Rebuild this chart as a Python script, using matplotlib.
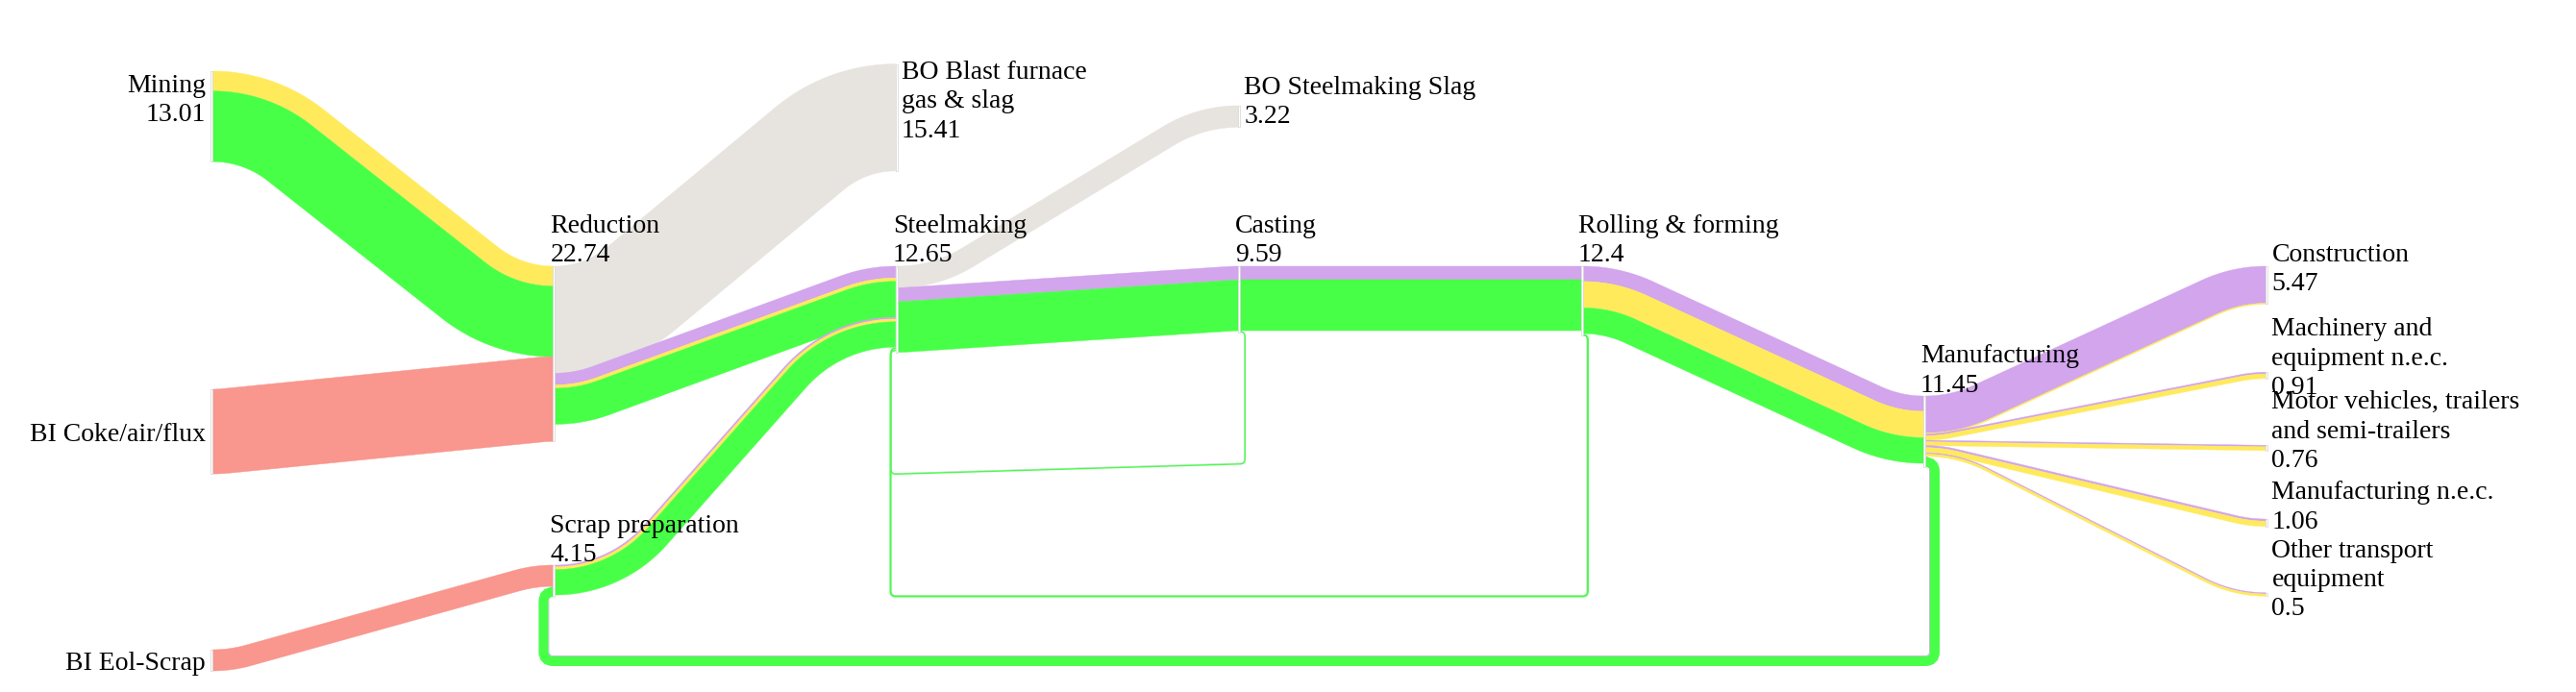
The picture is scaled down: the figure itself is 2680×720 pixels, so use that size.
import numpy as np
import matplotlib
matplotlib.use("Agg")
import matplotlib.pyplot as plt
from matplotlib.path import Path
from matplotlib.patches import PathPatch, Polygon, Rectangle

# ---- data -----------------------------------------------------------------
node_names = [
    "Mining", "BI Coke/air/flux", "BI Eol-Scrap",
    "Reduction", "Scrap preparation",
    "BO Blast furnace gas & slag", "Steelmaking",
    "BO Steelmaking Slag", "Casting",
    "Rolling & forming",
    "Manufacturing",
    "Construction", "Machinery and equipment n.e.c.",
    "Motor vehicles, trailers and semi-trailers",
    "Manufacturing n.e.c.", "Other transport equipment",
]
node_labels = [
    "Mining", "BI Coke/air/flux", "BI Eol-Scrap",
    "Reduction", "Scrap preparation",
    "BO Blast furnace\ngas & slag", "Steelmaking",
    "BO Steelmaking Slag", "Casting",
    "Rolling & forming",
    "Manufacturing",
    "Construction", "Machinery and\nequipment n.e.c.",
    "Motor vehicles, trailers\nand semi-trailers",
    "Manufacturing n.e.c.", "Other transport\nequipment",
]
node_values = [13.01, None, None, 22.74, 4.15, 15.41, 12.65, 3.22, 9.59,
               12.4, 11.45, 5.47, 0.91, 0.76, 1.06, 0.5]

# links, stacked at every node in the order they appear here
link_source = [
    "Mining", "Mining", "BI Coke/air/flux", "BI Eol-Scrap",
    "Reduction", "Reduction", "Reduction", "Reduction",
    "Scrap preparation", "Scrap preparation", "Scrap preparation",
    "Steelmaking", "Steelmaking", "Steelmaking",
    "Casting", "Casting", "Casting", "Casting",
    "Rolling & forming", "Rolling & forming", "Rolling & forming",
    "Rolling & forming", "Rolling & forming",
    "Manufacturing", "Manufacturing", "Manufacturing", "Manufacturing",
    "Manufacturing", "Manufacturing", "Manufacturing", "Manufacturing",
    "Manufacturing", "Manufacturing", "Manufacturing", "Manufacturing",
]
link_target = [
    "Reduction", "Reduction", "Reduction", "Scrap preparation",
    "BO Blast furnace gas & slag", "Steelmaking", "Steelmaking", "Steelmaking",
    "Steelmaking", "Steelmaking", "Steelmaking",
    "BO Steelmaking Slag", "Casting", "Casting",
    "Rolling & forming", "Rolling & forming", "Steelmaking", "Steelmaking",
    "Manufacturing", "Manufacturing", "Manufacturing",
    "Steelmaking", "Steelmaking",
    "Construction", "Construction",
    "Machinery and equipment n.e.c.", "Machinery and equipment n.e.c.",
    "Motor vehicles, trailers and semi-trailers",
    "Motor vehicles, trailers and semi-trailers",
    "Manufacturing n.e.c.", "Manufacturing n.e.c.",
    "Other transport equipment", "Other transport equipment",
    "Scrap preparation", "Scrap preparation",
]
link_material = [
    "yellow", "green", "input", "input",
    "loss", "purple", "yellow", "green",
    "purple", "yellow", "green",
    "loss", "purple", "green",
    "purple", "green", "purple", "green",
    "purple", "yellow", "green",
    "purple", "green",
    "purple", "yellow", "purple", "yellow", "purple", "yellow",
    "purple", "yellow", "purple", "yellow",
    "purple", "green",
]
link_value = [
    2.87, 10.17, 12.2, 3.05,
    15.41, 1.7, 0.48, 5.18,
    0.25, 0.4, 3.65,
    3.1, 2.0, 7.3,
    2.0, 7.3, 0.05, 0.2,
    2.2, 3.8, 3.7,
    0.05, 0.28,
    5.33, 0.14, 0.26, 0.65, 0.22, 0.54,
    0.3, 0.76, 0.18, 0.32,
    0.12, 1.4,
]

material_colors = {
    "green": "#48FF48",
    "yellow": "#FFEA5C",
    "purple": "#D2A5EC",
    "loss": "#E7E3DF",
    "input": "#F9968D",
}

# ---- layout (pixels) ---------------------------------------------------------
node_column = [0, 0, 0, 1, 1, 2, 2, 3, 3, 4, 5, 6, 6, 6, 6, 6]
node_top = [74, 405, 676, 277, 588, 66.6, 277, 110, 277, 277, 412,
            277, 387.3, 463.3, 540, 616.7]
label_side = ["L", "L", "L", "A", "A", "R", "A", "R", "A", "A", "A",
              "R", "R", "R", "R", "R"]
label_y = [96, 459, 697, 242, 554, 81.7, 242, 97.8, 242, 242, 377.4,
           272, 349, 425, 519, 579.5]
loop_bottom = {  # outer edge of the return links, (left end, right end)
    ("Casting", "Steelmaking"): (494.0, 483.5),
    ("Rolling & forming", "Steelmaking"): (621.5, 621.5),
    ("Manufacturing", "Scrap preparation"): (693.0, 693.0),
}

W, H, DPI = 2680, 720, 100
PX = 7.22          # pixels per unit
X0, DX = 220.0, 356.4
NODE_W = 2.0
GAP = 4.0
BEND = 140.0       # bend radius of link centre lines
LINE = 30.5

fig = plt.figure(figsize=(W / DPI, H / DPI), dpi=DPI)
ax = fig.add_axes([0, 0, 1, 1])
ax.set_xlim(0, W)
ax.set_ylim(H, 0)
ax.axis("off")

idx = {name: i for i, name in enumerate(node_names)}
n = len(node_names)
node_x = [X0 + DX * c for c in node_column]
out_off = [0.0] * n
in_off = [0.0] * n

links = []
for s, t, m, v in zip(link_source, link_target, link_material, link_value):
    si, ti = idx[s], idx[t]
    w = v * PX
    ys = node_top[si] + out_off[si]
    yt = node_top[ti] + in_off[ti]
    out_off[si] += w
    in_off[ti] += w
    links.append((si, ti, ys, yt, w, material_colors[m]))

# bundles: all links sharing source and target travel together
bundles = {}
for si, ti, ys, yt, w, col in links:
    b = bundles.setdefault((si, ti), [ys, yt, 0.0])
    b[0] = min(b[0], ys)
    b[1] = min(b[1], yt)
    b[2] += w


def centre_line(x0, y0, x1, y1, r):
    """arc - straight - arc centre line, returns points and unit normals"""
    a = (x1 - x0) / 2
    b = abs(y1 - y0) / 2
    if b < 1e-6:
        pts = np.array([[x0, y0], [x1, y1]])
        return pts, np.array([[0.0, 1.0], [0.0, 1.0]])
    s = np.sign(y1 - y0)
    r = min(r, (a * a + b * b) / (2 * b))
    R = np.hypot(a, r - b)
    th = np.arcsin(min(1.0, r / R)) - np.arctan2(r - b, a)
    phi = np.linspace(0, th, 40)
    p1 = np.column_stack([x0 + r * np.sin(phi), y0 + s * r * (1 - np.cos(phi))])
    phi2 = phi[::-1]
    p2 = np.column_stack([x1 - r * np.sin(phi2), y1 - s * r * (1 - np.cos(phi2))])
    tang = np.column_stack([np.cos(np.r_[phi, phi2]), s * np.sin(np.r_[phi, phi2])])
    norm = np.column_stack([-tang[:, 1], tang[:, 0]])
    return np.vstack([p1, p2]), norm


def band(pts, nrm, d0, d1, color):
    top = pts + d0 * nrm
    bot = pts + d1 * nrm
    poly = np.vstack([top, bot[::-1]])
    ax.add_patch(Polygon(poly, closed=True, facecolor=color, edgecolor=color,
                         lw=0.3, zorder=1))


def loop(xs, ys, xt, yt, w, c, yb_l, yb_r, color):
    r = GAP + c
    xv = xs + GAP + c
    xl = xt - GAP - c
    y0 = ys + w / 2
    y1 = yt + w / 2
    verts = [(xs, y0), (xv, y0), (xv, y0 + r),
             (xv, yb_r - r), (xv, yb_r), (xv - r, yb_r),
             (xl + r, yb_l), (xl, yb_l), (xl, yb_l - r),
             (xl, y1 + r), (xl, y1), (xl + r, y1)]
    codes = [Path.MOVETO, Path.CURVE3, Path.CURVE3,
             Path.LINETO, Path.CURVE3, Path.CURVE3,
             Path.LINETO, Path.CURVE3, Path.CURVE3,
             Path.LINETO, Path.CURVE3, Path.CURVE3]
    ax.add_patch(PathPatch(Path(verts, codes), facecolor="none",
                           edgecolor=color, lw=w * 72 / DPI,
                           capstyle="butt", zorder=1))


for si, ti, ys, yt, w, col in links:
    xs = node_x[si] + NODE_W / 2
    xt = node_x[ti] - NODE_W / 2
    btop_s, btop_t, bw = bundles[(si, ti)]
    if node_column[ti] <= node_column[si]:
        c = ys - btop_s + w / 2
        bl, br = loop_bottom[(node_names[si], node_names[ti])]
        loop(xs, ys, xt, yt, w, c, bl - bw + c, br - bw + c, col)
    else:
        pts, nrm = centre_line(xs, btop_s + bw / 2, xt, btop_t + bw / 2, BEND)
        d0 = ys - btop_s - bw / 2
        band(pts, nrm, d0, d0 + w, col)

# nodes
for i in range(n):
    h = max(in_off[i], out_off[i])
    ax.add_patch(Rectangle((node_x[i] - NODE_W / 2, node_top[i]), NODE_W, h,
                           facecolor="white", edgecolor="#d4d4d4", lw=0.5,
                           zorder=2))

# labels
for i in range(n):
    lines = node_labels[i].split("\n")
    if node_values[i] is not None:
        lines.append(f"{node_values[i]:g}")
    if label_side[i] == "L":
        x, ha = node_x[i] - 6, "right"
    elif label_side[i] == "A":
        x, ha = node_x[i] - 4, "left"
    else:
        x, ha = node_x[i] + 5, "left"
    for k, line in enumerate(lines):
        ax.text(x, label_y[i] + k * LINE, line, ha=ha, va="baseline",
                fontsize=20, family=["Liberation Serif", "DejaVu Serif"],
                color="black", zorder=3)

fig.savefig("out.png", dpi=DPI)
